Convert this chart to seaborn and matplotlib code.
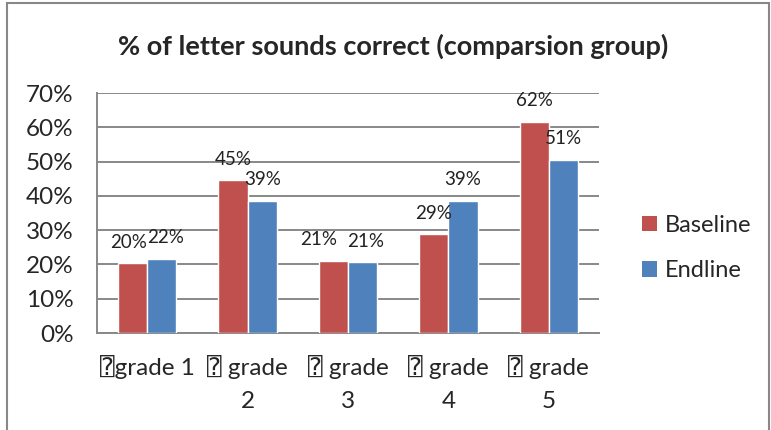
import matplotlib
matplotlib.use("Agg")
import matplotlib.pyplot as plt
from matplotlib.patches import Rectangle, Patch
import seaborn as sns
import pandas as pd

# data
grades = ["\u2370grade 1", "\u2370 grade\n2", "\u2370 grade\n3", "\u2370 grade\n4", "\u2370 grade\n5"]
baseline = [0.204, 0.446, 0.211, 0.288, 0.616]
endline = [0.216, 0.386, 0.206, 0.386, 0.506]
series = ["Baseline", "Endline"]
colors = ["#C0504D", "#4F81BD"]
yticks = [0, 0.1, 0.2, 0.3, 0.4, 0.5, 0.6, 0.7]

# horizontal nudges (points) for the value labels, like Excel's placement
nudge_base = [-3, 0, -11, 0, 0]
nudge_end = [3, 0, 2, 0, 0]

df = pd.DataFrame({
    "grade": grades * 2,
    "value": baseline + endline,
    "series": [series[0]] * len(grades) + [series[1]] * len(grades),
})

sns.set_style("white")
plt.rcParams["font.family"] = ["Lato", "DejaVu Sans", "DejaVu Sans Mono"]

fig = plt.figure(figsize=(7.71, 4.30), dpi=100)
ax = fig.add_axes([97 / 771, 1 - 333 / 430, 502 / 771, 240 / 430])

sns.barplot(data=df, x="grade", y="value", hue="series", palette=colors,
            width=0.58, gap=0, saturation=1, ax=ax, legend=False, zorder=3)

for cont, nudges in zip(ax.containers, [nudge_base, nudge_end]):
    for bar, dx in zip(cont, nudges):
        h = bar.get_height()
        ax.annotate(f"{h:.0%}", (bar.get_x() + bar.get_width() / 2, h),
                    xytext=(dx, 9), textcoords="offset points",
                    ha="center", va="bottom", fontsize=13.5, color="#222222")

ax.set_ylim(0, 0.7)
ax.set_xlim(-0.5, 4.5)
ax.set_yticks(yticks)
ax.set_yticklabels([f"{t:.0%}" for t in yticks], fontsize=17.5)
ax.tick_params(axis="y", length=0, pad=17)
ax.tick_params(axis="x", length=0, pad=16, labelsize=17.5)
for lbl in ax.get_xticklabels():
    lbl.set_linespacing(1.7)
ax.set_xlabel("")
ax.set_ylabel("")
ax.grid(axis="y", color="#888888", linewidth=1.4, zorder=0)
ax.set_axisbelow(True)
for s in ["top", "right"]:
    ax.spines[s].set_visible(False)
for s in ["left", "bottom"]:
    ax.spines[s].set_color("#888888")
    ax.spines[s].set_linewidth(1.4)

fig.text(393 / 771, 1 - 46 / 430, "% of letter sounds correct (comparsion group)",
         ha="center", va="center", fontsize=19.5, fontweight="bold")

handles = [Patch(facecolor=c, edgecolor="none") for c in colors]
fig.legend(handles, series, loc="center left", bbox_to_anchor=(621 / 771, 1 - 248 / 430),
           frameon=False, fontsize=17, handlelength=0.62, handleheight=0.62,
           handletextpad=0.35, labelspacing=1.05)

fig.patches.append(Rectangle((7 / 771, -0.05), 762 / 771, 1.05 - 3 / 430, transform=fig.transFigure,
                             fill=False, edgecolor="#888888", linewidth=1.5))

fig.savefig("out.png", dpi=100)
